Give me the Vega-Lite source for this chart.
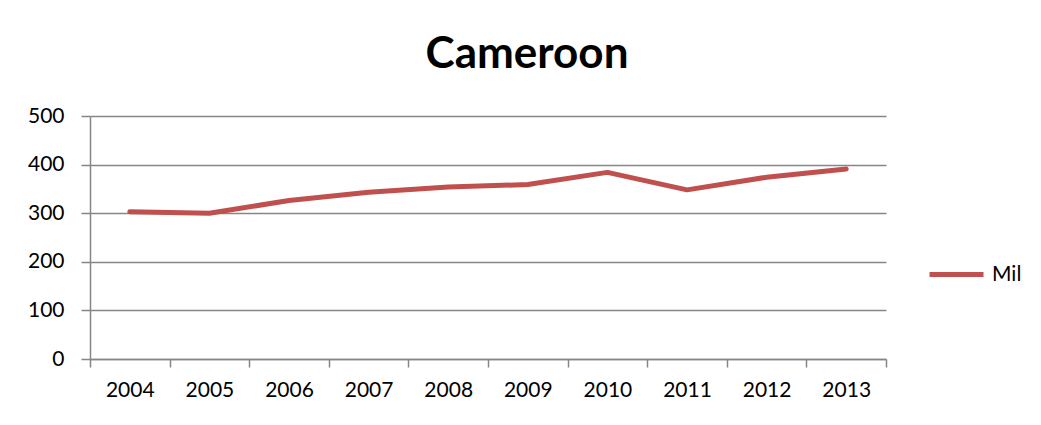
{
  "$schema": "https://vega.github.io/schema/vega-lite/v6.json",
  "autosize": {"type": "none"},
  "width": 796,
  "height": 243,
  "padding": {"left": 90, "top": 116, "right": 155, "bottom": 66},
  "background": "white",
  "title": {
    "text": "Cameroon",
    "font": "Lato",
    "fontSize": 44,
    "fontWeight": "bold",
    "color": "#000000",
    "anchor": "middle",
    "frame": "group",
    "dx": 39,
    "offset": 28
  },
  "data": {
    "values": [
      {"year": "2004", "series": "Mil", "value": 303},
      {"year": "2005", "series": "Mil", "value": 300},
      {"year": "2006", "series": "Mil", "value": 326},
      {"year": "2007", "series": "Mil", "value": 343},
      {"year": "2008", "series": "Mil", "value": 354},
      {"year": "2009", "series": "Mil", "value": 359},
      {"year": "2010", "series": "Mil", "value": 384},
      {"year": "2011", "series": "Mil", "value": 348},
      {"year": "2012", "series": "Mil", "value": 374},
      {"year": "2013", "series": "Mil", "value": 391}
    ]
  },
  "mark": {"type": "line", "strokeWidth": 5, "strokeCap": "round", "strokeJoin": "round"},
  "encoding": {
    "x": {
      "field": "year",
      "type": "ordinal",
      "scale": {"type": "band", "paddingInner": 0, "paddingOuter": 0},
      "axis": {
        "title": null,
        "labelAngle": 0,
        "tickBand": "extent",
        "tickSize": 8,
        "labelPadding": 12,
        "labelFontSize": 21,
        "labelFont": "Lato",
        "labelColor": "#000000",
        "domainColor": "#868686",
        "tickColor": "#868686",
        "domainWidth": 1.5,
        "tickWidth": 1.5,
        "grid": false
      }
    },
    "y": {
      "field": "value",
      "type": "quantitative",
      "scale": {"domain": [0, 500], "nice": false},
      "axis": {
        "title": null,
        "values": [0, 100, 200, 300, 400, 500],
        "tickSize": 9,
        "labelPadding": 17,
        "labelFontSize": 21,
        "labelFont": "Lato",
        "labelColor": "#000000",
        "domainColor": "#868686",
        "tickColor": "#868686",
        "gridColor": "#868686",
        "domainWidth": 1.5,
        "tickWidth": 1.5,
        "gridWidth": 1.5,
        "grid": true
      }
    },
    "color": {
      "field": "series",
      "type": "nominal",
      "scale": {"range": ["#C0504D"]},
      "legend": {
        "title": null,
        "orient": "none",
        "legendX": 837,
        "legendY": 129,
        "symbolType": "stroke",
        "symbolSize": 2916,
        "symbolStrokeWidth": 5,
        "labelFont": "Lato",
        "labelFontSize": 21,
        "labelColor": "#000000",
        "labelOffset": 6
      }
    }
  },
  "config": {"view": {"stroke": null}}
}
